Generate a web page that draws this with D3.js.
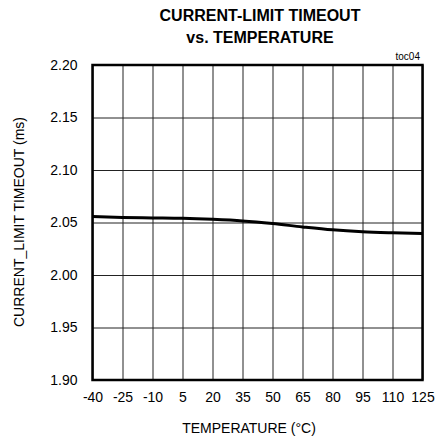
<!DOCTYPE html>
<html>
<head>
<meta charset="utf-8">
<script src="https://cdn.jsdelivr.net/npm/d3@7"></script>
<style>
  body { margin: 0; background: #fff; }
  text { font-family: "Liberation Sans", Arial, sans-serif; fill: #000; }
</style>
</head>
<body>
<div id="chart"></div>
<script>
  // temperature (°C) vs current-limit timeout (ms)
  var temps = [-40, -25, -10, 5, 20, 35, 50, 65, 80, 95, 110, 125]
  var timeout = [2.0557, 2.0548, 2.0544, 2.0540, 2.0530, 2.0515, 2.0490, 2.0458, 2.0430, 2.0412, 2.0402, 2.0395]
  var xTicks = [-40, -25, -10, 5, 20, 35, 50, 65, 80, 95, 110, 125]
  var yTicks = [1.90, 1.95, 2.00, 2.05, 2.10, 2.15, 2.20]

  var w = 435
  var h = 447
  var m = {top: 65, right: 12.5, bottom: 67, left: 92.5}

  var svg = d3.select("#chart")
              .append("svg")
              .attr("width", w)
              .attr("height", h)

  var x = d3.scaleLinear()
      .domain([-40, 125])
      .range([m.left, w - m.right])

  var y = d3.scaleLinear()
      .domain([1.90, 2.20])
      .range([h - m.bottom, m.top])

  // grid
  svg.append("g")
     .attr("transform", "translate(0," + (h - m.bottom) + ")")
     .call(d3.axisBottom(x).tickValues(xTicks).tickSize(-(h - m.top - m.bottom)).tickFormat(""))
     .call(g => g.select(".domain").remove())
     .selectAll("line").attr("stroke", "#222").attr("stroke-width", 1)

  svg.append("g")
     .attr("transform", "translate(" + m.left + ",0)")
     .call(d3.axisLeft(y).tickValues(yTicks).tickSize(-(w - m.left - m.right)).tickFormat(""))
     .call(g => g.select(".domain").remove())
     .selectAll("line").attr("stroke", "#222").attr("stroke-width", 1)

  // tick labels (plain hyphen for negatives, as in the original)
  svg.append("g")
     .attr("transform", "translate(0," + (h - m.bottom) + ")")
     .call(d3.axisBottom(x).tickValues(xTicks).tickSize(0).tickPadding(12).tickFormat(d => String(d)))
     .call(g => g.select(".domain").remove())
     .selectAll("text")
     .attr("font-size", "14px")
     .attr("font-family", "Liberation Sans, Arial, sans-serif")

  svg.append("g")
     .attr("transform", "translate(" + m.left + ",0)")
     .call(d3.axisLeft(y).tickValues(yTicks).tickSize(0).tickPadding(15).tickFormat(d => d.toFixed(2)))
     .call(g => g.select(".domain").remove())
     .selectAll("text")
     .attr("font-size", "14px")
     .attr("font-family", "Liberation Sans, Arial, sans-serif")

  // frame
  svg.append("rect")
     .attr("x", m.left)
     .attr("y", m.top)
     .attr("width", w - m.left - m.right)
     .attr("height", h - m.top - m.bottom)
     .attr("fill", "none")
     .attr("stroke", "#000")
     .attr("stroke-width", 2.5)

  // curve
  var line = d3.line()
      .x(function(d, i) { return x(temps[i]) })
      .y(function(d) { return y(d) })
      .curve(d3.curveMonotoneX)

  svg.append("path")
     .datum(timeout)
     .attr("d", line)
     .attr("fill", "none")
     .attr("stroke", "#000")
     .attr("stroke-width", 3)

  // titles
  svg.append("text")
     .attr("x", 260).attr("y", 21)
     .attr("text-anchor", "middle")
     .attr("font-size", "16px").attr("font-weight", "bold")
     .text("CURRENT-LIMIT TIMEOUT")

  svg.append("text")
     .attr("x", 260).attr("y", 43)
     .attr("text-anchor", "middle")
     .attr("font-size", "16px").attr("font-weight", "bold")
     .text("vs. TEMPERATURE")

  svg.append("text")
     .attr("x", 420).attr("y", 60)
     .attr("text-anchor", "end")
     .attr("font-size", "10px")
     .text("toc04")

  svg.append("text")
     .attr("x", 249).attr("y", 433)
     .attr("text-anchor", "middle")
     .attr("font-size", "14px")
     .text("TEMPERATURE (°C)")

  svg.append("text")
     .attr("transform", "translate(24,222) rotate(-90)")
     .attr("text-anchor", "middle")
     .attr("font-size", "14px")
     .text("CURRENT_LIMIT TIMEOUT (ms)")
</script>
</body>
</html>
